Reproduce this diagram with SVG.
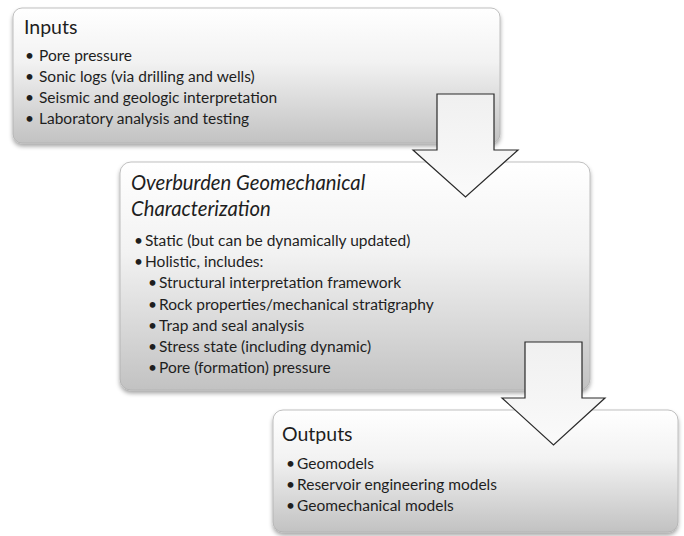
<svg xmlns="http://www.w3.org/2000/svg" width="684" height="536" viewBox="0 0 684 536">
<defs>
<linearGradient id="boxg" x1="0" y1="0" x2="0" y2="1">
<stop offset="0" stop-color="#ffffff"/>
<stop offset="0.4" stop-color="#f2f2f2"/>
<stop offset="1" stop-color="#c2c2c2"/>
</linearGradient>
<linearGradient id="arrg" x1="0" y1="0" x2="0" y2="1">
<stop offset="0" stop-color="#f0f0f0"/>
<stop offset="1" stop-color="#fafafa"/>
</linearGradient>
<filter id="sh" x="-5%" y="-5%" width="110%" height="115%">
<feDropShadow dx="0" dy="3" stdDeviation="2" flood-color="#000" flood-opacity="0.35"/>
</filter>
</defs>
<style>
.box{fill:url(#boxg);stroke:#b0b0b0;stroke-width:0.8;filter:url(#sh)}
.arrow{fill:url(#arrg);stroke:#2a2a2a;stroke-width:1.2;stroke-linejoin:miter}
text{font-family:Lato,"Liberation Sans",sans-serif;fill:#1e1e1e}
.title{font-size:19.5px}
.ital{font-size:20.3px;font-style:italic}
.item{font-size:15.5px}
</style>
<rect width="684" height="536" fill="#ffffff"/>
<g id="inputs">
<rect class="box" x="13" y="8" width="487" height="135" rx="9"/>
<text class="title" x="24" y="34">Inputs</text>
<text class="item" x="25" y="61">•</text><text class="item" x="39" y="61">Pore pressure</text>
<text class="item" x="25" y="82">•</text><text class="item" x="39" y="82">Sonic logs (via drilling and wells)</text>
<text class="item" x="25" y="103">•</text><text class="item" x="39" y="103">Seismic and geologic interpretation</text>
<text class="item" x="25" y="124">•</text><text class="item" x="39" y="124">Laboratory analysis and testing</text>
</g>
<g id="characterization">
<rect class="box" x="120" y="162" width="470" height="228" rx="11"/>
<text class="ital" x="131" y="190">Overburden Geomechanical</text>
<text class="ital" x="131" y="216">Characterization</text>
<text class="item" x="134" y="246">•</text><text class="item" x="145" y="246">Static (but can be dynamically updated)</text>
<text class="item" x="134" y="267">•</text><text class="item" x="145" y="267">Holistic, includes:</text>
<text class="item" x="148" y="288">•</text><text class="item" x="159" y="288">Structural interpretation framework</text>
<text class="item" x="148" y="310">•</text><text class="item" x="159" y="310">Rock properties/mechanical stratigraphy</text>
<text class="item" x="148" y="331">•</text><text class="item" x="159" y="331">Trap and seal analysis</text>
<text class="item" x="148" y="352">•</text><text class="item" x="159" y="352">Stress state (including dynamic)</text>
<text class="item" x="148" y="373">•</text><text class="item" x="159" y="373">Pore (formation) pressure</text>
</g>
<g id="outputs">
<rect class="box" x="273" y="410" width="405" height="122" rx="10"/>
<text class="title" x="282" y="441">Outputs</text>
<text class="item" x="286" y="469">•</text><text class="item" x="297" y="469">Geomodels</text>
<text class="item" x="286" y="490">•</text><text class="item" x="297" y="490">Reservoir engineering models</text>
<text class="item" x="286" y="511">•</text><text class="item" x="297" y="511">Geomechanical models</text>
</g>
<g id="connectors">
<path class="arrow" d="M437,94 H494 V150 H518 L465.5,197 L413,150 H437 Z"/>
<path class="arrow" d="M525,342 H582 V398 H605 L553.5,445 L502,398 H525 Z"/>
</g>
</svg>
